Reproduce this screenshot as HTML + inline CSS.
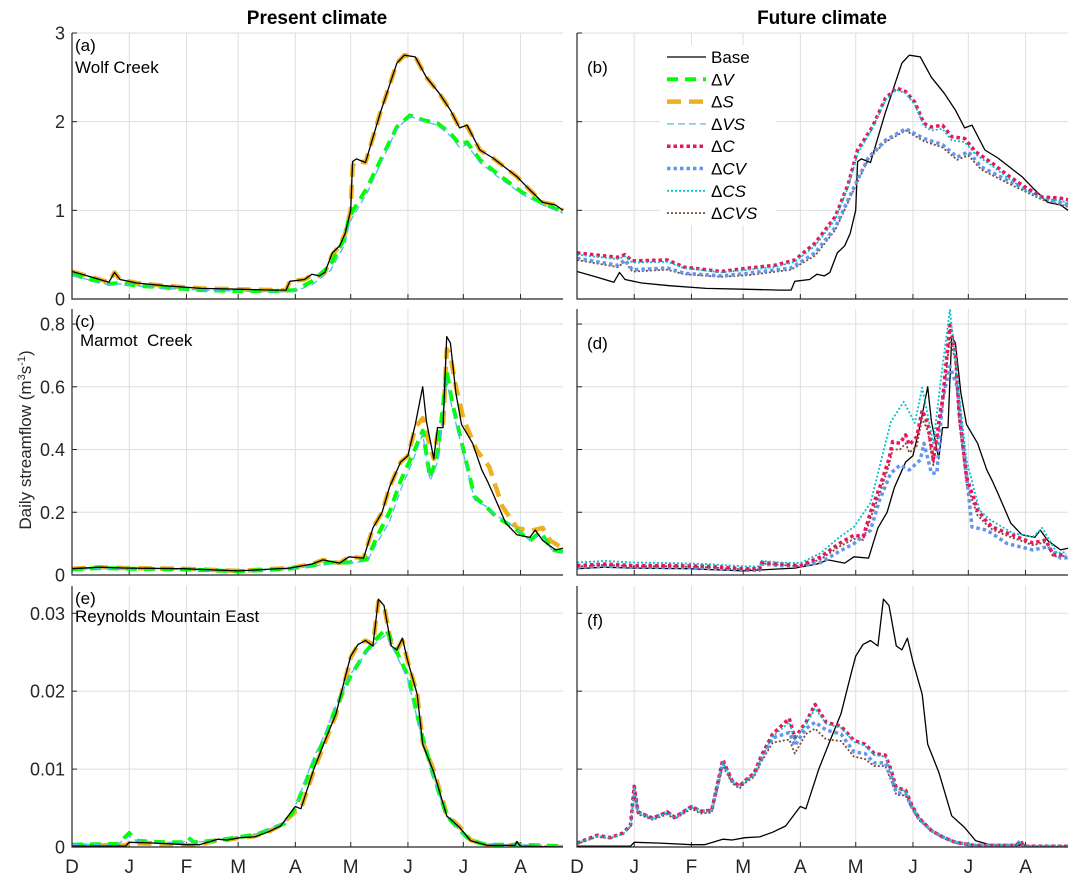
<!DOCTYPE html>
<html><head><meta charset="utf-8">
<style>
html,body{margin:0;padding:0;background:#fff;}
svg{display:block;font-family:"Liberation Sans",Arial,sans-serif;}
</style></head>
<body>
<svg id="chart" width="1078" height="884" viewBox="0 0 1078 884" xmlns="http://www.w3.org/2000/svg">
<rect x="0" y="0" width="1078" height="884" fill="#fff"/>
<text x="317" y="24" text-anchor="middle" font-size="19" font-weight="bold" fill="#000">Present climate</text>
<text x="822" y="24" text-anchor="middle" font-size="19" font-weight="bold" fill="#000">Future climate</text>
<text transform="translate(31,440) rotate(-90)" text-anchor="middle" font-size="17" fill="#262626">Daily streamflow (m<tspan font-size="11" dy="-6">3</tspan><tspan dy="6">s</tspan><tspan font-size="11" dy="-6">-1</tspan><tspan dy="6">)</tspan></text>
<g id="plots"></g>
</svg>
<script>
// ---- data (day since Dec 1, value in m3/s) ----
const monthLabels = ["D","J","F","M","A","M","J","J","A"];
const monthDays = [0,31,62,90,121,151,182,212,243];
const ticksA = [0,1,2,3];
const ticksC = [0,0.2,0.4,0.6,0.8];
const ticksE = [0,0.01,0.02,0.03];
const tickLabelsE = ["0","0.01","0.02","0.03"];

const baseA_d = [0,10,20,23,26,35,50,70,90,110,116,118,126,130,134,137,141,145,148,151,152,154,159,167,172,176,180,186,192,199,205,210,214,221,228,241,248,255,262,266];
const baseA_v = [0.31,0.25,0.19,0.30,0.22,0.18,0.15,0.12,0.11,0.10,0.10,0.20,0.22,0.28,0.26,0.30,0.52,0.60,0.74,1.0,1.55,1.58,1.54,2.1,2.41,2.66,2.75,2.73,2.5,2.32,2.13,1.93,1.96,1.68,1.59,1.38,1.23,1.09,1.06,1.0];
const dSA_v = [0.31,0.25,0.19,0.30,0.22,0.18,0.15,0.12,0.11,0.10,0.10,0.20,0.22,0.27,0.26,0.30,0.50,0.60,0.74,1.0,1.50,1.56,1.54,2.1,2.41,2.66,2.75,2.73,2.5,2.32,2.13,1.93,1.95,1.68,1.59,1.38,1.23,1.09,1.06,1.0];
const dVA_d = [0,10,20,26,35,50,70,90,110,121,130,140,148,150,160,167,176,183,190,198,205,210,214,221,230,244,255,266];
const dVA_v = [0.28,0.22,0.17,0.18,0.15,0.13,0.10,0.09,0.09,0.10,0.20,0.38,0.70,0.92,1.26,1.56,1.94,2.07,2.02,1.98,1.87,1.74,1.77,1.57,1.42,1.2,1.08,0.98];
const dVSA_v = [0.27,0.21,0.16,0.17,0.15,0.12,0.10,0.09,0.08,0.09,0.16,0.32,0.62,0.85,1.2,1.52,1.92,2.06,2.01,1.96,1.84,1.71,1.74,1.54,1.39,1.18,1.06,0.97];

const dCB_d = [0,22,26,30,49,58,78,93,107,118,129,140,147,152,160,167,173,178,183,188,192,198,203,210,216,225,233,243,252,261,266];
const dCB_v = [0.52,0.47,0.50,0.43,0.44,0.36,0.31,0.35,0.38,0.44,0.63,0.93,1.3,1.68,1.94,2.26,2.38,2.34,2.22,1.98,1.94,1.96,1.83,1.81,1.66,1.53,1.4,1.26,1.15,1.14,1.12];
const dCSB_v = [0.50,0.45,0.48,0.41,0.42,0.35,0.30,0.33,0.36,0.42,0.60,0.90,1.27,1.64,1.92,2.24,2.36,2.32,2.19,1.95,1.90,1.92,1.79,1.77,1.63,1.50,1.37,1.23,1.13,1.11,1.09];
const dCVB_d = [0,22,26,30,49,58,78,93,116,129,140,151,158,167,178,188,198,206,212,219,233,252,266];
const dCVB_v = [0.46,0.38,0.44,0.33,0.35,0.29,0.26,0.29,0.35,0.52,0.81,1.3,1.6,1.79,1.92,1.81,1.74,1.6,1.66,1.49,1.34,1.15,1.06];
const dCVSB_v = [0.44,0.36,0.42,0.31,0.33,0.28,0.25,0.27,0.33,0.49,0.78,1.28,1.58,1.77,1.90,1.78,1.71,1.57,1.62,1.46,1.31,1.12,1.04];

const baseC_d = [0,15,30,60,90,105,118,130,136,145,150,158,163,168,172,178,182,186,190,192,196,198,201,203,205,208,211,217,222,225,228,235,241,248,251,255,262,266];
const baseC_v = [0.02,0.025,0.022,0.02,0.013,0.018,0.022,0.035,0.048,0.038,0.058,0.054,0.15,0.2,0.28,0.36,0.38,0.48,0.6,0.49,0.37,0.47,0.47,0.76,0.74,0.58,0.48,0.42,0.335,0.3,0.26,0.165,0.128,0.12,0.143,0.11,0.08,0.085];
const dSC_d = [0,15,30,60,90,105,118,130,136,145,150,158,163,168,172,178,182,186,190,192,196,198,201,203,205,208,212,219,226,233,241,248,255,259,266];
const dSC_v = [0.02,0.025,0.022,0.02,0.013,0.018,0.022,0.035,0.048,0.038,0.058,0.054,0.15,0.2,0.28,0.36,0.38,0.47,0.5,0.45,0.37,0.45,0.47,0.72,0.7,0.6,0.5,0.4,0.345,0.22,0.15,0.14,0.15,0.11,0.085];
const dVC_d = [0,15,30,60,90,105,118,130,140,150,160,165,172,178,185,190,194,198,203,206,212,218,224,230,239,248,254,260,266];
const dVC_v = [0.018,0.022,0.02,0.018,0.012,0.016,0.02,0.03,0.04,0.04,0.05,0.12,0.2,0.3,0.39,0.46,0.31,0.38,0.65,0.55,0.4,0.25,0.22,0.185,0.153,0.11,0.137,0.08,0.074];
const dVSC_v = [0.018,0.022,0.02,0.018,0.012,0.016,0.02,0.028,0.036,0.038,0.045,0.1,0.17,0.27,0.37,0.45,0.3,0.36,0.62,0.53,0.39,0.24,0.22,0.19,0.155,0.11,0.13,0.08,0.072];

const dCD_d = [0,15,30,50,70,90,99,100,110,121,132,142,150,155,159,164,169,171,175,178,180,184,187,190,193,197,198,202,205,207,211,217,222,225,233,240,247,254,258,265];
const dCD_v = [0.03,0.035,0.03,0.03,0.028,0.02,0.02,0.04,0.035,0.03,0.058,0.1,0.127,0.122,0.2,0.28,0.37,0.425,0.42,0.447,0.415,0.44,0.525,0.485,0.367,0.526,0.557,0.797,0.708,0.515,0.313,0.207,0.17,0.153,0.134,0.118,0.102,0.112,0.064,0.064];
const dCVSD_v = [0.027,0.032,0.028,0.028,0.025,0.018,0.018,0.037,0.032,0.028,0.05,0.09,0.115,0.112,0.18,0.26,0.35,0.4,0.4,0.42,0.39,0.41,0.5,0.46,0.35,0.5,0.53,0.76,0.68,0.49,0.29,0.19,0.16,0.145,0.125,0.11,0.095,0.105,0.06,0.06];
const dCVD_d = [0,15,30,50,70,90,99,100,110,121,132,142,150,159,164,170,175,180,186,188,192,195,198,202,206,209,214,222,233,247,255,262,266];
const dCVD_v = [0.025,0.028,0.025,0.024,0.022,0.015,0.015,0.035,0.03,0.028,0.04,0.075,0.1,0.143,0.24,0.325,0.35,0.335,0.367,0.42,0.325,0.325,0.557,0.665,0.6,0.43,0.153,0.143,0.1,0.08,0.09,0.054,0.055];
const dCSD_d = [0,15,30,50,70,90,99,100,110,121,132,142,150,159,170,177,183,187,193,198,202,206,211,218,224,236,247,252,260,265];
const dCSD_v = [0.04,0.045,0.04,0.038,0.035,0.028,0.027,0.045,0.04,0.038,0.07,0.12,0.153,0.23,0.488,0.552,0.485,0.597,0.42,0.665,0.845,0.63,0.367,0.207,0.175,0.134,0.121,0.15,0.07,0.073];

const baseE_d = [0,29,31,45,62,69,79,84,91,99,106,113,121,124,131,137,143,148,151,155,159,163,166,169,173,176,179,182,187,190,196,203,210,216,225,240,241,243,266];
const baseE_v = [0.0001,0.0001,0.0006,0.0005,0.0003,0.0003,0.001,0.0009,0.0012,0.0013,0.0019,0.0027,0.0052,0.0049,0.01,0.0136,0.0171,0.0218,0.0245,0.026,0.0265,0.0258,0.0318,0.031,0.0258,0.0253,0.0268,0.0238,0.0196,0.0132,0.0096,0.004,0.0025,0.0008,0.0002,0.0002,0.0007,0.0001,0];
const dSE_v = [0.0002,0.0002,0.0005,0.0004,0.0002,0.0003,0.0009,0.0009,0.0012,0.0014,0.0019,0.0028,0.0045,0.0049,0.0098,0.0134,0.017,0.0215,0.0243,0.026,0.0265,0.026,0.0315,0.031,0.026,0.0253,0.0265,0.0238,0.0196,0.0135,0.0098,0.0042,0.0026,0.0009,0.0002,0.0002,0.0005,0.0001,0];
const dVE_d = [0,25,31,35,50,60,63,66,80,100,115,121,131,137,143,151,159,166,170,176,182,190,196,203,210,216,225,243,266];
const dVE_v = [0.0003,0.0004,0.0018,0.0008,0.0006,0.0006,0.0012,0.0006,0.0009,0.0016,0.003,0.005,0.011,0.014,0.018,0.022,0.025,0.027,0.028,0.025,0.022,0.014,0.009,0.004,0.0022,0.0008,0.0003,0.0003,0.0001];
const dVSE_v = [0.0003,0.0004,0.0014,0.0008,0.0006,0.0006,0.001,0.0006,0.0009,0.0017,0.0032,0.0052,0.0115,0.0145,0.0182,0.0222,0.0248,0.0265,0.0272,0.0245,0.0215,0.0135,0.0088,0.0039,0.0021,0.0008,0.0003,0.0003,0.0001];

const dCF_d = [0,11,18,25,29,31,33,41,49,53,62,67,73,79,84,88,91,96,100,106,115,118,124,129,135,143,150,156,161,167,170,173,178,181,185,192,198,205,215,238,240,242,266];
const dCF_v = [0.0005,0.0015,0.0012,0.0018,0.0028,0.0078,0.0045,0.0037,0.0045,0.0038,0.0052,0.0046,0.0047,0.0112,0.0085,0.0078,0.0085,0.0095,0.0118,0.0145,0.0165,0.014,0.016,0.0183,0.016,0.0155,0.0137,0.0132,0.012,0.0118,0.01,0.0076,0.0073,0.0056,0.0038,0.0021,0.0013,0.0006,0.0002,0.0002,0.0007,0.0001,0.0001];
const dCSF_v = [0.0005,0.0014,0.0012,0.0017,0.0027,0.0076,0.0044,0.0036,0.0044,0.0037,0.0051,0.0045,0.0046,0.011,0.0084,0.0077,0.0084,0.0093,0.0115,0.0142,0.016,0.0138,0.0157,0.0178,0.0158,0.0153,0.0135,0.013,0.0118,0.0116,0.0098,0.0075,0.0072,0.0055,0.0037,0.002,0.0013,0.0006,0.0002,0.0002,0.0006,0.0001,0.0001];
const dCVF_v = [0.0005,0.0015,0.0012,0.0018,0.0028,0.0077,0.0045,0.0037,0.0045,0.0038,0.0052,0.0046,0.0047,0.0108,0.0085,0.0078,0.0085,0.0093,0.0113,0.014,0.0147,0.013,0.0152,0.016,0.015,0.0145,0.0122,0.012,0.0108,0.0108,0.009,0.007,0.0068,0.0053,0.0037,0.0021,0.0013,0.0006,0.0002,0.0002,0.0008,0.0001,0.0001];
const dCVSF_v = [0.0004,0.0013,0.0011,0.0017,0.0026,0.0072,0.0042,0.0035,0.0042,0.0036,0.0049,0.0043,0.0044,0.0104,0.0082,0.0075,0.0082,0.009,0.011,0.0134,0.0138,0.012,0.0145,0.0152,0.0138,0.0136,0.0116,0.0113,0.0104,0.0104,0.0086,0.0067,0.0066,0.0051,0.0035,0.002,0.0012,0.0005,0.0002,0.0002,0.0006,0.0001,0.0001];

const STY = {
  base:{c:"#000000",w:1.3,d:""},
  dV:{c:"#00ff00",w:4,d:"11 7"},
  dS:{c:"#EDB120",w:4.5,d:"14 8"},
  dVS:{c:"#4DBEEE",w:1.3,d:"7 4"},
  dC:{c:"#E8175D",w:3.5,d:"3.5 3"},
  dCV:{c:"#6495ED",w:3.5,d:"3.5 3"},
  dCS:{c:"#00C5CD",w:1.8,d:"2 2"},
  dCVS:{c:"#7E4A35",w:1.8,d:"2 2"}
};
const NS = "http://www.w3.org/2000/svg";
const root = document.getElementById("plots");
function mk(tag, attrs, parent){const e=document.createElementNS(NS,tag);for(const k in attrs)e.setAttribute(k,attrs[k]);parent.appendChild(e);return e;}

function panel(id, x0, x1, yTop, yBot, vmax, ticks, tickLbls, showYLabels, showX, series, label, site){
  const g = mk("g",{},root);
  
  
  const DMAX = 266;
  const xs = d => x0 + d*(x1-x0)/DMAX;
  const ys = v => yBot - v*(yBot-yTop)/vmax;
  monthDays.forEach((d,i)=>{ if(d===0) return;
    const l = mk("line",{x1:xs(d),x2:xs(d),y1:yTop,y2:yBot,stroke:"#dedede","stroke-width":1},g);
    
    
  });
  ticks.forEach((t,i)=>{
    const y = ys(t);
    if(t>0){ const l = mk("line",{x1:x0,x2:x1,y1:y,y2:y,stroke:"#dedede","stroke-width":1},g);
      
       }
    const tk = mk("line",{x1:x0,x2:x0+5,y1:y,y2:y,stroke:"#262626","stroke-width":1},g);
    
    
    if(showYLabels){
      const tx = mk("text",{x:x0-7,y:y+6.5,"text-anchor":"end","font-size":"18",fill:"#262626"},g);
      tx.textContent = tickLbls ? tickLbls[i] : String(t);
      
      
    }
  });
  monthDays.forEach((d,i)=>{
    const tk = mk("line",{x1:xs(d),x2:xs(d),y1:yBot,y2:yBot-5,stroke:"#262626","stroke-width":1},g);
    
    
    if(showX){
      const tx = mk("text",{x:xs(d),y:yBot+26,"text-anchor":"middle","font-size":"19",fill:"#262626"},g);
      tx.textContent = monthLabels[i];
      
      
    }
  });
  const clipId = "clip-"+id;
  const cp = mk("clipPath",{id:clipId},g);
  mk("rect",{x:x0,y:yTop-8,width:x1-x0+2,height:yBot-yTop+8},cp);
  series.forEach(s=>{
    const st = STY[s.k];
    const pts = s.d.map((d,i)=>xs(d).toFixed(1)+","+ys(s.v[i]).toFixed(1)).join(" ");
    const p = mk("polyline",{points:pts,fill:"none",stroke:st.c,"stroke-width":st.w,"stroke-dasharray":st.d,"stroke-linejoin":"round","clip-path":"url(#"+clipId+")"},g);
    
    
  });
  const ax = mk("path",{d:`M${x0},${yTop} L${x0},${yBot} L${x1},${yBot}`,fill:"none",stroke:"#262626","stroke-width":1.2},g);
  
  
  const lb = mk("text",{x:x0+(site?3:10),y:yTop+(site?18:40),"font-size":"17",fill:"#000"},g);
  lb.textContent = label;
  
  
  if(site){
    const st = mk("text",{x:x0+site[1],y:yTop+site[2],"font-size":"17",fill:"#000",style:"white-space:pre"},g);
    st.textContent = site[0];
    
    
  }
}

const L0=72, L1=563, R0=577, R1=1068;
panel("a",L0,L1,33,299,3,ticksA,null,true,false,[
  {k:"dS",d:baseA_d,v:dSA_v},{k:"dV",d:dVA_d,v:dVA_v},{k:"dVS",d:dVA_d,v:dVSA_v},{k:"base",d:baseA_d,v:baseA_v}],"(a)",["Wolf Creek",3,40]);
panel("b",R0,R1,33,299,3,ticksA,null,false,false,[
  {k:"base",d:baseA_d,v:baseA_v},{k:"dCVS",d:dCVB_d,v:dCVSB_v},{k:"dCV",d:dCVB_d,v:dCVB_v},{k:"dC",d:dCB_d,v:dCB_v},{k:"dCS",d:dCB_d,v:dCSB_v}],"(b)",null);
panel("c",L0,L1,309,575,0.848,ticksC,null,true,false,[
  {k:"dS",d:dSC_d,v:dSC_v},{k:"dV",d:dVC_d,v:dVC_v},{k:"dVS",d:dVC_d,v:dVSC_v},{k:"base",d:baseC_d,v:baseC_v}],"(c)",["Marmot  Creek",8,37]);
panel("d",R0,R1,309,575,0.848,ticksC,null,false,false,[
  {k:"base",d:baseC_d,v:baseC_v},{k:"dCVS",d:dCD_d,v:dCVSD_v},{k:"dCV",d:dCVD_d,v:dCVD_v},{k:"dC",d:dCD_d,v:dCD_v},{k:"dCS",d:dCSD_d,v:dCSD_v}],"(d)",null);
panel("e",L0,L1,586,847,0.0335,ticksE,tickLabelsE,true,true,[
  {k:"dS",d:baseE_d,v:dSE_v},{k:"dV",d:dVE_d,v:dVE_v},{k:"dVS",d:dVE_d,v:dVSE_v},{k:"base",d:baseE_d,v:baseE_v}],"(e)",["Reynolds Mountain East",3,36]);
panel("f",R0,R1,586,847,0.0335,ticksE,tickLabelsE,false,true,[
  {k:"base",d:baseE_d,v:baseE_v},{k:"dCVS",d:dCF_d,v:dCVSF_v},{k:"dCV",d:dCF_d,v:dCVF_v},{k:"dC",d:dCF_d,v:dCF_v},{k:"dCS",d:dCF_d,v:dCSF_v}],"(f)",null);

const legKeys = ["base","dV","dS","dVS","dC","dCV","dCS","dCVS"];
const legNames = ["Base","V","S","VS","C","CV","CS","CVS"];
const lg = mk("g",{},root);


mk("rect",{x:660,y:45,width:116,height:180,fill:"#fff"},lg);
legKeys.forEach((k,i)=>{
  const y = 57 + i*22.3;
  const st = STY[k];
  const ln = mk("line",{x1:667,x2:706,y1:y,y2:y,stroke:st.c,"stroke-width":st.w,"stroke-dasharray":st.d},lg);
  
  
  const t = mk("text",{x:711,y:y+6,"font-size":"17",fill:"#000"},lg);
  
  
  if(k==="base"){ t.textContent = "Base"; }
  else { const a = mk("tspan",{},t); a.textContent="Δ"; const b = mk("tspan",{"font-style":"italic"},t); b.textContent=legNames[i]; }
});
</script>
</body></html>
